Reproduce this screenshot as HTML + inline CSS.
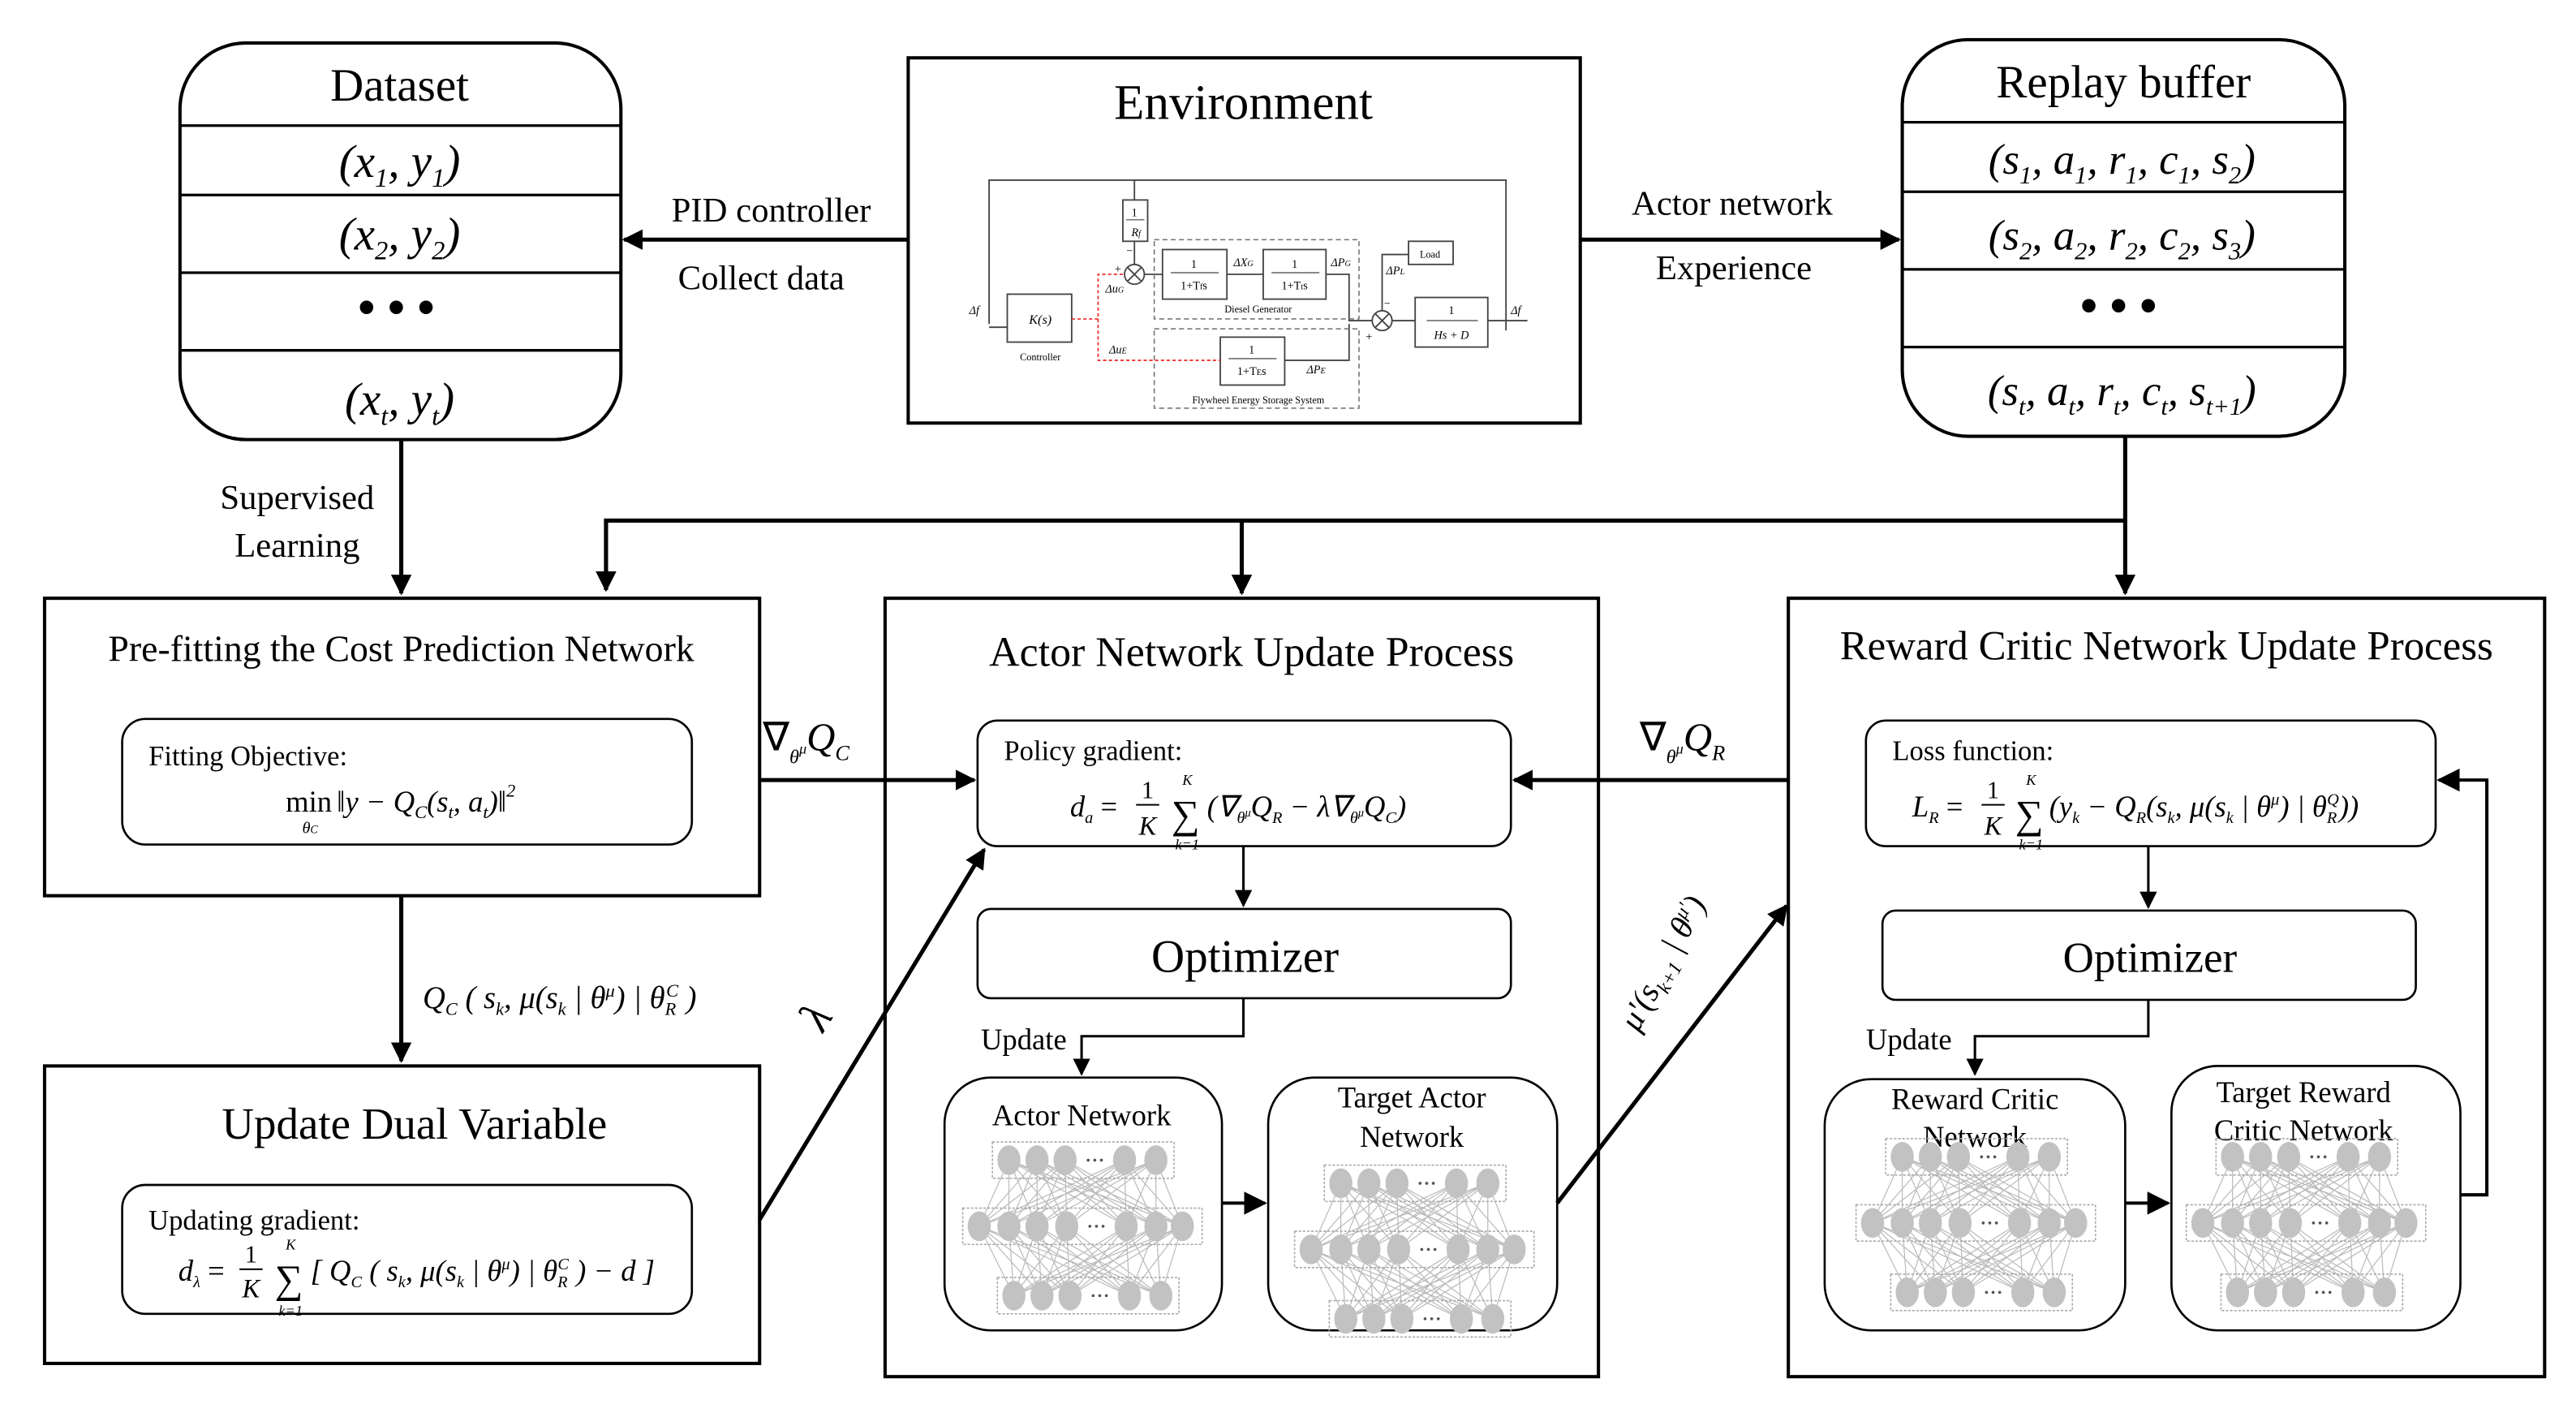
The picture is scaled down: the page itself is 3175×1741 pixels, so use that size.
<!DOCTYPE html>
<html><head><meta charset="utf-8"><style>
html,body{margin:0;padding:0;background:#fff;}
svg{display:block;}
text{font-family:"Liberation Serif",serif;fill:#000;}
.i{font-style:italic;}
</style></head><body>
<svg width="3175" height="1741" viewBox="0 0 1560 855" preserveAspectRatio="none" xmlns="http://www.w3.org/2000/svg">
<defs>
<marker id="a" viewBox="0 0 10 10" refX="9" refY="5" markerWidth="5" markerHeight="5" orient="auto-start-reverse"><path d="M0 0L10 5L0 10z" fill="#000"/></marker>
<marker id="as" viewBox="0 0 10 10" refX="9" refY="5" markerWidth="7" markerHeight="7" orient="auto"><path d="M0 0L10 5L0 10z" fill="#000"/></marker>
<g id="nn">
<g stroke="#bbb" stroke-width="0.6" fill="none">
<path d="M-44 0L-62 40M-44 0L-44 40M-44 0L-27 40M-44 0L-9 40M-44 0L27 40M-44 0L45 40M-44 0L61 40
M-27 0L-62 40M-27 0L-44 40M-27 0L-27 40M-27 0L-9 40M-27 0L27 40M-27 0L45 40M-27 0L61 40
M-10 0L-62 40M-10 0L-44 40M-10 0L-27 40M-10 0L-9 40M-10 0L27 40M-10 0L45 40M-10 0L61 40
M26 0L-62 40M26 0L-44 40M26 0L-27 40M26 0L-9 40M26 0L27 40M26 0L45 40M26 0L61 40
M45 0L-62 40M45 0L-44 40M45 0L-27 40M45 0L-9 40M45 0L27 40M45 0L45 40M45 0L61 40
M-62 40L-41 82M-62 40L-24 82M-62 40L-7 82M-62 40L29 82M-62 40L48 82
M-44 40L-41 82M-44 40L-24 82M-44 40L-7 82M-44 40L29 82M-44 40L48 82
M-27 40L-41 82M-27 40L-24 82M-27 40L-7 82M-27 40L29 82M-27 40L48 82
M-9 40L-41 82M-9 40L-24 82M-9 40L-7 82M-9 40L29 82M-9 40L48 82
M27 40L-41 82M27 40L-24 82M27 40L-7 82M27 40L29 82M27 40L48 82
M45 40L-41 82M45 40L-24 82M45 40L-7 82M45 40L29 82M45 40L48 82
M61 40L-41 82M61 40L-24 82M61 40L-7 82M61 40L29 82M61 40L48 82"/>
</g>
<g stroke="#aaa" stroke-width="0.8" stroke-dasharray="1.5 1" fill="none">
<rect x="-54" y="-11" width="110" height="22"/>
<rect x="-72" y="29" width="145" height="22"/>
<rect x="-51" y="71" width="110" height="22"/>
</g>
<g fill="#c2c2c2">
<ellipse cx="-44" cy="0" rx="7" ry="9"/><ellipse cx="-27" cy="0" rx="7" ry="9"/><ellipse cx="-10" cy="0" rx="7" ry="9"/><ellipse cx="26" cy="0" rx="7" ry="9"/><ellipse cx="45" cy="0" rx="7" ry="9"/>
<ellipse cx="-62" cy="40" rx="7" ry="9"/><ellipse cx="-44" cy="40" rx="7" ry="9"/><ellipse cx="-27" cy="40" rx="7" ry="9"/><ellipse cx="-9" cy="40" rx="7" ry="9"/><ellipse cx="27" cy="40" rx="7" ry="9"/><ellipse cx="45" cy="40" rx="7" ry="9"/><ellipse cx="61" cy="40" rx="7" ry="9"/>
<ellipse cx="-41" cy="82" rx="7" ry="9"/><ellipse cx="-24" cy="82" rx="7" ry="9"/><ellipse cx="-7" cy="82" rx="7" ry="9"/><ellipse cx="29" cy="82" rx="7" ry="9"/><ellipse cx="48" cy="82" rx="7" ry="9"/>
</g>
<g fill="#555"><circle cx="4" cy="0" r="0.9"/><circle cx="8" cy="0" r="0.9"/><circle cx="12" cy="0" r="0.9"/>
<circle cx="5" cy="40" r="0.9"/><circle cx="9" cy="40" r="0.9"/><circle cx="13" cy="40" r="0.9"/>
<circle cx="7" cy="82" r="0.9"/><circle cx="11" cy="82" r="0.9"/><circle cx="15" cy="82" r="0.9"/></g>
</g>
</defs>

<!-- Dataset -->
<rect x="109" y="26" width="267" height="240" rx="40" fill="none" stroke="#000" stroke-width="2"/>
<g stroke="#000" stroke-width="1.6"><line x1="109" y1="76" x2="376" y2="76"/><line x1="109" y1="118" x2="376" y2="118"/><line x1="109" y1="165" x2="376" y2="165"/><line x1="109" y1="212" x2="376" y2="212"/></g>
<text x="242" y="61" font-size="28" text-anchor="middle">Dataset</text>
<text x="242" y="107" font-size="28" text-anchor="middle" class="i">(x<tspan font-size="16" dy="6">1</tspan><tspan dy="-6">, y</tspan><tspan font-size="16" dy="6">1</tspan><tspan dy="-6">)</tspan></text>
<text x="242" y="151" font-size="28" text-anchor="middle" class="i">(x<tspan font-size="16" dy="6">2</tspan><tspan dy="-6">, y</tspan><tspan font-size="16" dy="6">2</tspan><tspan dy="-6">)</tspan></text>
<text x="240" y="196" font-size="30" text-anchor="middle" font-weight="bold">• • •</text>
<text x="242" y="251" font-size="28" text-anchor="middle" class="i">(x<tspan font-size="16" dy="6">t</tspan><tspan dy="-6">, y</tspan><tspan font-size="16" dy="6">t</tspan><tspan dy="-6">)</tspan></text>

<!-- Replay buffer -->
<rect x="1152" y="24" width="268" height="240" rx="40" fill="none" stroke="#000" stroke-width="2"/>
<g stroke="#000" stroke-width="1.6"><line x1="1152" y1="74" x2="1420" y2="74"/><line x1="1152" y1="116" x2="1420" y2="116"/><line x1="1152" y1="163" x2="1420" y2="163"/><line x1="1152" y1="210" x2="1420" y2="210"/></g>
<text x="1286" y="59" font-size="28" text-anchor="middle">Replay buffer</text>
<text x="1285" y="105" font-size="26" text-anchor="middle" class="i">(s<tspan font-size="15" dy="6">1</tspan><tspan dy="-6">, a</tspan><tspan font-size="15" dy="6">1</tspan><tspan dy="-6">, r</tspan><tspan font-size="15" dy="6">1</tspan><tspan dy="-6">, c</tspan><tspan font-size="15" dy="6">1</tspan><tspan dy="-6">, s</tspan><tspan font-size="15" dy="6">2</tspan><tspan dy="-6">)</tspan></text>
<text x="1285" y="151" font-size="26" text-anchor="middle" class="i">(s<tspan font-size="15" dy="6">2</tspan><tspan dy="-6">, a</tspan><tspan font-size="15" dy="6">2</tspan><tspan dy="-6">, r</tspan><tspan font-size="15" dy="6">2</tspan><tspan dy="-6">, c</tspan><tspan font-size="15" dy="6">2</tspan><tspan dy="-6">, s</tspan><tspan font-size="15" dy="6">3</tspan><tspan dy="-6">)</tspan></text>
<text x="1283" y="195" font-size="30" text-anchor="middle" font-weight="bold">• • •</text>
<text x="1285" y="245" font-size="26" text-anchor="middle" class="i">(s<tspan font-size="15" dy="6">t</tspan><tspan dy="-6">, a</tspan><tspan font-size="15" dy="6">t</tspan><tspan dy="-6">, r</tspan><tspan font-size="15" dy="6">t</tspan><tspan dy="-6">, c</tspan><tspan font-size="15" dy="6">t</tspan><tspan dy="-6">, s</tspan><tspan font-size="15" dy="6">t+1</tspan><tspan dy="-6">)</tspan></text>

<!-- Environment -->
<rect x="550" y="35" width="407" height="221" fill="none" stroke="#000" stroke-width="2"/>
<text x="753" y="72" font-size="30" text-anchor="middle">Environment</text>
<g stroke="#444" stroke-width="0.9" fill="none">
<polyline points="599,196 599,109 912,109 912,200"/>
<line x1="687" y1="109" x2="687" y2="121"/>
<rect x="680" y="121" width="15" height="25"/>
<line x1="687" y1="146" x2="687" y2="160"/>
<line x1="599" y1="198" x2="610" y2="198"/>
<rect x="610" y="178" width="39" height="29"/>
<circle cx="687" cy="166" r="6"/>
<line x1="683" y1="162" x2="691" y2="170"/><line x1="691" y1="162" x2="683" y2="170"/>
<line x1="693" y1="166" x2="704" y2="166"/>
<rect x="704" y="151" width="39" height="30"/>
<line x1="743" y1="166" x2="765" y2="166"/>
<rect x="765" y="151" width="38" height="30"/>
<polyline points="803,166 817,166 817,194 831,194"/>
<rect x="853" y="146" width="27" height="14"/>
<polyline points="853,154 837,154 837,188"/>
<circle cx="837" cy="194" r="6"/>
<line x1="833" y1="190" x2="841" y2="198"/><line x1="841" y1="190" x2="833" y2="198"/>
<line x1="843" y1="194" x2="857" y2="194"/>
<rect x="857" y="180" width="44" height="30"/>
<line x1="901" y1="194" x2="925" y2="194"/>
<rect x="739" y="204" width="39" height="29"/>
<polyline points="778,218 817,218 817,196"/>
</g>
<g stroke="#777" stroke-width="0.8" fill="none" stroke-dasharray="3 2">
<rect x="699" y="145" width="124" height="48"/>
<rect x="699" y="199" width="124" height="48"/>
</g>
<g stroke="#e33" stroke-width="0.9" fill="none" stroke-dasharray="2 1.5">
<polyline points="649,193 665,193 665,166 681,166"/>
<polyline points="665,193 665,218 739,218"/>
</g>
<g font-size="7" text-anchor="middle">
<text x="687" y="131">1</text><line x1="682" y1="133" x2="693" y2="133" stroke="#444" stroke-width="0.6"/><text x="688" y="143" class="i">R<tspan font-size="5">f</tspan></text>
<text x="630" y="196" class="i" font-size="8">K(s)</text>
<text x="630" y="218" font-size="6">Controller</text>
<text x="723" y="162">1</text><line x1="709" y1="165" x2="738" y2="165" stroke="#444" stroke-width="0.6"/><text x="723" y="175">1+T<tspan font-size="5">f</tspan>s</text>
<text x="784" y="162">1</text><line x1="770" y1="165" x2="799" y2="165" stroke="#444" stroke-width="0.6"/><text x="784" y="175">1+T<tspan font-size="5">t</tspan>s</text>
<text x="762" y="189" font-size="6">Diesel Generator</text>
<text x="758" y="214">1</text><line x1="744" y1="217" x2="773" y2="217" stroke="#444" stroke-width="0.6"/><text x="758" y="227">1+T<tspan font-size="5">E</tspan>s</text>
<text x="762" y="244" font-size="6">Flywheel Energy Storage System</text>
<text x="879" y="190">1</text><line x1="864" y1="194" x2="895" y2="194" stroke="#444" stroke-width="0.6"/><text x="879" y="205" class="i">Hs + D</text>
<text x="866" y="156" font-size="6">Load</text>
<text x="753" y="161" class="i">ΔX<tspan font-size="5">G</tspan></text>
<text x="812" y="161" class="i">ΔP<tspan font-size="5">G</tspan></text>
<text x="845" y="166" class="i">ΔP<tspan font-size="5">L</tspan></text>
<text x="797" y="226" class="i">ΔP<tspan font-size="5">E</tspan></text>
<text x="675" y="177" class="i">Δu<tspan font-size="5">G</tspan></text>
<text x="677" y="214" class="i">Δu<tspan font-size="5">E</tspan></text>
<text x="590" y="190" class="i">Δf</text>
<text x="918" y="190" class="i">Δf</text>
<text x="677" y="165">+</text><text x="684" y="154">−</text>
<text x="829" y="206">+</text><text x="840" y="186">−</text>
</g>

<!-- top arrows -->
<line x1="550" y1="145" x2="378" y2="145" stroke="#000" stroke-width="2.5" marker-end="url(#a)"/>
<text x="467" y="134" font-size="21" text-anchor="middle">PID controller</text>
<text x="461" y="175" font-size="21" text-anchor="middle">Collect data</text>
<line x1="957" y1="145" x2="1150" y2="145" stroke="#000" stroke-width="2.5" marker-end="url(#a)"/>
<text x="1049" y="130" font-size="21" text-anchor="middle">Actor network</text>
<text x="1050" y="169" font-size="21" text-anchor="middle">Experience</text>

<line x1="243" y1="266" x2="243" y2="359" stroke="#000" stroke-width="2.5" marker-end="url(#a)"/>
<text x="180" y="308" font-size="21" text-anchor="middle">Supervised</text>
<text x="180" y="337" font-size="21" text-anchor="middle">Learning</text>

<g stroke="#000" stroke-width="2.5" fill="none">
<polyline points="1287,264 1287,315 367,315 367,357" marker-end="url(#a)"/>
<line x1="752" y1="315" x2="752" y2="359" marker-end="url(#a)"/>
<line x1="1287" y1="315" x2="1287" y2="359" marker-end="url(#a)"/>
</g>

<!-- Pre-fitting -->
<rect x="27" y="362" width="433" height="180" fill="none" stroke="#000" stroke-width="2"/>
<text x="243" y="400" font-size="22.5" text-anchor="middle">Pre-fitting the Cost Prediction Network</text>
<rect x="74" y="435" width="345" height="76" rx="14" fill="none" stroke="#000" stroke-width="1.3"/>
<text x="90" y="463" font-size="17">Fitting Objective:</text>
<text x="173" y="491" font-size="18">min</text><text x="183" y="504" font-size="10" class="i">θ<tspan font-size="7">C</tspan></text>
<text x="204" y="491" font-size="18" class="i">‖y − Q<tspan font-size="11" dy="4">C</tspan><tspan dy="-4">(s</tspan><tspan font-size="11" dy="4">t</tspan><tspan dy="-4">, a</tspan><tspan font-size="11" dy="4">t</tspan><tspan dy="-4">)‖</tspan><tspan font-size="11" dy="-9">2</tspan></text>

<line x1="243" y1="542" x2="243" y2="642" stroke="#000" stroke-width="2.5" marker-end="url(#a)"/>
<text x="256" y="610" font-size="19" class="i">Q<tspan font-size="11" dy="4">C</tspan><tspan dy="-4"> ( s</tspan><tspan font-size="11" dy="4">k</tspan><tspan dy="-4">, μ(s</tspan><tspan font-size="11" dy="4">k</tspan><tspan dy="-4"> | θ</tspan><tspan font-size="11" dy="-7">μ</tspan><tspan dy="7">) | θ</tspan><tspan font-size="11" dy="4">R</tspan><tspan font-size="11" dx="-6" dy="-11">C</tspan><tspan dy="7"> )</tspan></text>

<!-- Update Dual Variable -->
<rect x="27" y="645" width="433" height="180" fill="none" stroke="#000" stroke-width="2"/>
<text x="251" y="689" font-size="27" text-anchor="middle">Update Dual Variable</text>
<rect x="74" y="717" width="345" height="78" rx="14" fill="none" stroke="#000" stroke-width="1.3"/>
<text x="90" y="744" font-size="17">Updating gradient:</text>
<text x="108" y="775" font-size="18" class="i">d<tspan font-size="10" dy="4">λ</tspan><tspan dy="-4" font-style="normal"> = </tspan></text>
<text x="152" y="764" font-size="15" text-anchor="middle">1</text>
<line x1="145" y1="768" x2="159" y2="768" stroke="#000" stroke-width="1"/>
<text x="152" y="785" font-size="16" text-anchor="middle" class="i">K</text>
<text x="175" y="782" font-size="24" text-anchor="middle">∑</text>
<text x="176" y="756" font-size="9" text-anchor="middle" class="i">K</text>
<text x="176" y="796" font-size="9" text-anchor="middle" class="i">k=1</text>
<text x="188" y="775" font-size="18" class="i">[ Q<tspan font-size="10" dy="4">C</tspan><tspan dy="-4"> ( s</tspan><tspan font-size="10" dy="4">k</tspan><tspan dy="-4">, μ(s</tspan><tspan font-size="10" dy="4">k</tspan><tspan dy="-4"> | θ</tspan><tspan font-size="10" dy="-7">μ</tspan><tspan dy="7">) | θ</tspan><tspan font-size="10" dy="4">R</tspan><tspan font-size="10" dx="-6" dy="-11">C</tspan><tspan dy="7"> ) − d ]</tspan></text>

<!-- Actor Network Update Process -->
<rect x="536" y="362" width="432" height="471" fill="none" stroke="#000" stroke-width="2"/>
<text x="758" y="403" font-size="25.5" text-anchor="middle">Actor Network Update Process</text>
<rect x="592" y="436" width="323" height="76" rx="12" fill="none" stroke="#000" stroke-width="1.3"/>
<text x="608" y="460" font-size="17">Policy gradient:</text>
<text x="648" y="494" font-size="18" class="i">d<tspan font-size="10" dy="4">a</tspan><tspan dy="-4" font-style="normal"> = </tspan></text>
<text x="695" y="483" font-size="15" text-anchor="middle">1</text>
<line x1="688" y1="487" x2="702" y2="487" stroke="#000" stroke-width="1"/>
<text x="695" y="505" font-size="16" text-anchor="middle" class="i">K</text>
<text x="718" y="501" font-size="24" text-anchor="middle">∑</text>
<text x="719" y="475" font-size="9" text-anchor="middle" class="i">K</text>
<text x="719" y="514" font-size="9" text-anchor="middle" class="i">k=1</text>
<text x="731" y="494" font-size="18" class="i">(∇<tspan font-size="10" dy="4">θ</tspan><tspan font-size="7" dy="-4">μ</tspan><tspan dy="0">Q</tspan><tspan font-size="10" dy="4">R</tspan><tspan dy="-4"> − λ∇</tspan><tspan font-size="10" dy="4">θ</tspan><tspan font-size="7" dy="-4">μ</tspan><tspan>Q</tspan><tspan font-size="10" dy="4">C</tspan><tspan dy="-4">)</tspan></text>
<line x1="753" y1="512" x2="753" y2="548" stroke="#000" stroke-width="1.5" marker-end="url(#as)"/>
<rect x="592" y="550" width="323" height="54" rx="8" fill="none" stroke="#000" stroke-width="1.3"/>
<text x="754" y="588" font-size="28" text-anchor="middle">Optimizer</text>
<text x="620" y="635" font-size="18" text-anchor="middle">Update</text>
<polyline points="753,604 753,627 655,627 655,650" fill="none" stroke="#000" stroke-width="1.5" marker-end="url(#as)"/>
<rect x="572" y="652" width="168" height="153" rx="28" fill="none" stroke="#000" stroke-width="1.3"/>
<text x="655" y="681" font-size="18" text-anchor="middle">Actor Network</text>
<use href="#nn" x="655" y="702"/>
<rect x="768" y="652" width="175" height="153" rx="28" fill="none" stroke="#000" stroke-width="1.3"/>
<text x="855" y="670" font-size="18" text-anchor="middle">Target Actor</text>
<text x="855" y="694" font-size="18" text-anchor="middle">Network</text>
<use href="#nn" x="856" y="716"/>
<line x1="740" y1="728" x2="766" y2="728" stroke="#000" stroke-width="2" marker-end="url(#as)"/>

<!-- connectors into actor -->
<line x1="460" y1="472" x2="590" y2="472" stroke="#000" stroke-width="2.5" marker-end="url(#a)"/>
<text x="462" y="454" font-size="24">∇<tspan font-size="12" dy="8" class="i">θ</tspan><tspan font-size="9" dy="-6" class="i">μ</tspan><tspan font-size="24" dy="-2" class="i">Q</tspan><tspan font-size="13" dy="6" class="i">C</tspan></text>
<line x1="460" y1="738" x2="596" y2="514" stroke="#000" stroke-width="2.5" marker-end="url(#a)"/>
<text x="490" y="630" font-size="28" class="i" transform="rotate(-58 490 620)">λ</text>

<!-- Reward Critic -->
<rect x="1083" y="362" width="458" height="471" fill="none" stroke="#000" stroke-width="2"/>
<text x="1312" y="399" font-size="25" text-anchor="middle">Reward Critic Network Update Process</text>
<rect x="1130" y="436" width="345" height="76" rx="12" fill="none" stroke="#000" stroke-width="1.3"/>
<text x="1146" y="460" font-size="17">Loss function:</text>
<text x="1158" y="494" font-size="18" class="i">L<tspan font-size="10" dy="4">R</tspan><tspan dy="-4" font-style="normal"> = </tspan></text>
<text x="1207" y="483" font-size="15" text-anchor="middle">1</text>
<line x1="1200" y1="487" x2="1214" y2="487" stroke="#000" stroke-width="1"/>
<text x="1207" y="505" font-size="16" text-anchor="middle" class="i">K</text>
<text x="1229" y="501" font-size="24" text-anchor="middle">∑</text>
<text x="1230" y="475" font-size="9" text-anchor="middle" class="i">K</text>
<text x="1230" y="514" font-size="9" text-anchor="middle" class="i">k=1</text>
<text x="1241" y="494" font-size="18" class="i">(y<tspan font-size="10" dy="4">k</tspan><tspan dy="-4"> − Q</tspan><tspan font-size="10" dy="4">R</tspan><tspan dy="-4">(s</tspan><tspan font-size="10" dy="4">k</tspan><tspan dy="-4">, μ(s</tspan><tspan font-size="10" dy="4">k</tspan><tspan dy="-4"> | θ</tspan><tspan font-size="10" dy="-7">μ</tspan><tspan dy="7">) | θ</tspan><tspan font-size="10" dy="4">R</tspan><tspan font-size="10" dx="-6" dy="-11">Q</tspan><tspan dy="7">))</tspan></text>
<line x1="1301" y1="512" x2="1301" y2="549" stroke="#000" stroke-width="1.5" marker-end="url(#as)"/>
<rect x="1140" y="551" width="323" height="54" rx="8" fill="none" stroke="#000" stroke-width="1.3"/>
<text x="1302" y="588" font-size="26" text-anchor="middle">Optimizer</text>
<text x="1156" y="635" font-size="18" text-anchor="middle">Update</text>
<polyline points="1301,605 1301,627 1196,627 1196,650" fill="none" stroke="#000" stroke-width="1.5" marker-end="url(#as)"/>
<rect x="1105" y="653" width="182" height="152" rx="28" fill="none" stroke="#000" stroke-width="1.3"/>
<text x="1196" y="671" font-size="18" text-anchor="middle">Reward Critic</text>
<text x="1196" y="694" font-size="18" text-anchor="middle">Network</text>
<use href="#nn" x="1196" y="700"/>
<rect x="1315" y="645" width="175" height="160" rx="28" fill="none" stroke="#000" stroke-width="1.3"/>
<text x="1395" y="667" font-size="18" text-anchor="middle">Target Reward</text>
<text x="1395" y="690" font-size="18" text-anchor="middle">Critic Network</text>
<use href="#nn" x="1396" y="700"/>
<line x1="1287" y1="728" x2="1313" y2="728" stroke="#000" stroke-width="2" marker-end="url(#as)"/>
<polyline points="1490,723 1506,723 1506,472 1477,472" fill="none" stroke="#000" stroke-width="2" marker-end="url(#as)"/>

<line x1="1083" y1="472" x2="917" y2="472" stroke="#000" stroke-width="2.5" marker-end="url(#a)"/>
<text x="993" y="454" font-size="24">∇<tspan font-size="12" dy="8" class="i">θ</tspan><tspan font-size="9" dy="-6" class="i">μ</tspan><tspan font-size="24" dy="-2" class="i">Q</tspan><tspan font-size="13" dy="6" class="i">R</tspan></text>
<line x1="943" y1="728" x2="1082" y2="548" stroke="#000" stroke-width="2.5" marker-end="url(#a)"/>
<text x="992" y="625" font-size="20" class="i" transform="rotate(-62 992 625)">μ'(s<tspan font-size="12" dy="5">k+1</tspan><tspan dy="-5"> | θ</tspan><tspan font-size="12" dy="-7">μ'</tspan><tspan dy="7">)</tspan></text>
</svg>
</body></html>
